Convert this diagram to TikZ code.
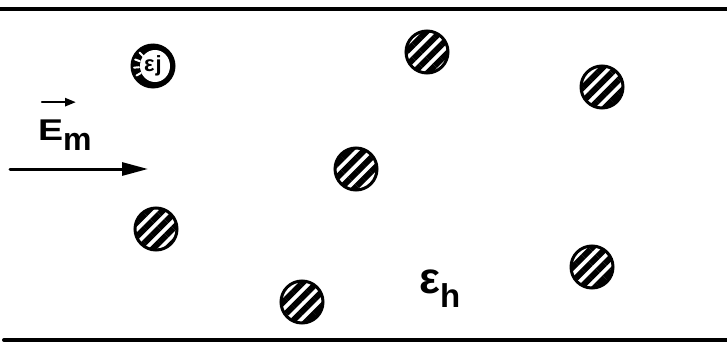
\documentclass[tikz,border=0pt]{standalone}
\usepackage{fontspec}
\setmainfont{Liberation Sans}
\usetikzlibrary{arrows.meta,patterns.meta}

\tikzset{
  grain/.style={circle,draw,line width=3pt,minimum size=42pt,inner sep=0pt,
    pattern={Lines[angle=45,distance=10pt,line width=6pt]}},
  plate/.style={line width=4pt},
}

\begin{document}
\begin{tikzpicture}[x=1pt,y=-1pt,line cap=round]
  \useasboundingbox (0,0) rectangle (727,345);

  % the two plates
  \coordinate (topL) at (0,9);   \coordinate (topR) at (727,9);
  \coordinate (botL) at (4,340); \coordinate (botR) at (727,340);
  \draw[plate] (topL) -- (topR);
  \draw[plate] (botL) -- (botR);

  % inclusions in the host
  \foreach \n/\x/\y in {1/427/52, 2/602/87, 3/356/169, 4/156/229, 5/592/267, 6/302/302}
    \node[grain] (incl\n) at (\x,\y) {};

  \node[circle,fill=black,minimum size=45pt,inner sep=0pt,
        path picture={
          \fill[white] ([shift={(2,0)}]path picture bounding box.center)
            ellipse [x radius=15, y radius=16];
          \foreach \a in {150,175,200,225}
            \draw[white,line width=2pt]
              ([shift={(\a:14)}]path picture bounding box.center) --
              ([shift={(\a:19)}]path picture bounding box.center);
        }] (inclj) at (153,66)
    {\fontsize{22}{22}\selectfont\bfseries ε\kern1pt j};

  % applied field
  \coordinate (fieldL) at (10,169); \coordinate (fieldR) at (148,169);
  \draw[line width=3pt,-{Triangle[length=26pt,width=13pt]}] (fieldL) -- (fieldR);

  \node[anchor=base west,inner sep=0pt] (Em) at (38,140)
    {\fontsize{30}{30}\selectfont\bfseries\scalebox{1.25}[1]{E}\raisebox{-10pt}{\fontsize{32}{32}\selectfont m}};
  \draw[line width=2.5pt,-{Triangle[length=11pt,width=8pt]}]
    ([shift={(4,-17)}]Em.north west) -- ++(34,0);

  \node[anchor=base west,inner sep=0pt] (Eh) at (419,293)
    {\fontsize{44}{44}\selectfont\bfseries ε\raisebox{-14pt}{\fontsize{33}{33}\selectfont h}};
\end{tikzpicture}
\end{document}
